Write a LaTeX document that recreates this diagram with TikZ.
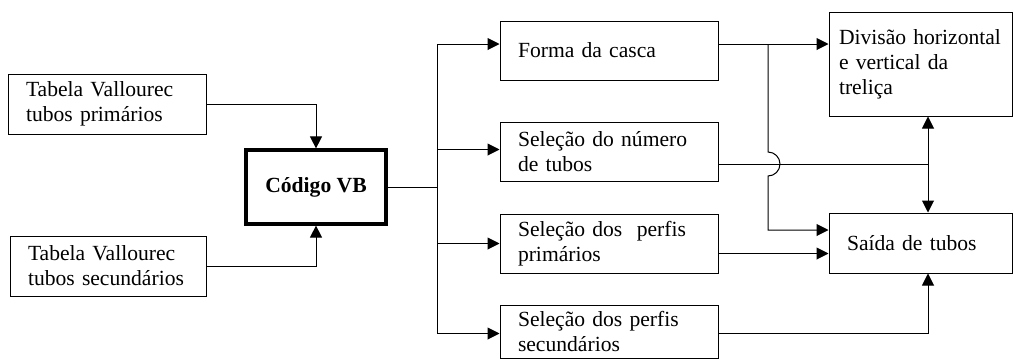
\documentclass[tikz,border=0pt]{standalone}
\usepackage{fontspec}
\setmainfont{Liberation Serif}
\usetikzlibrary{arrows.meta}

\begin{document}
\begin{tikzpicture} [line width = 0.5pt, x = 0.5pt, y = -0.5pt,
  box/.style = {draw, align = left, inner xsep = 9pt, inner ysep = 0pt, font = \fontsize{10.8}{12.5}\selectfont},
  arr/.style = {-{Triangle[length = 6pt, width = 6pt]}},
  arrboth/.style = {{Triangle[length = 6pt, width = 6pt]}-{Triangle[length = 6pt, width = 6pt]}}]

\useasboundingbox (0,0) rectangle (1014,360);

\node [box, text width = 81pt, minimum height = 30pt] (tab1) at (107,104) {Tabela Vallourec\\tubos primários};
\node [box, text width = 80pt, minimum height = 30pt] (tab2) at (108,266) {Tabela Vallourec\\tubos secundários};

\node [draw, line width = 1.6pt, minimum width = 70pt, minimum height = 37pt, font = \fontsize{10.8}{12.5}\selectfont\bfseries] (vb) at (316,187) {Código VB};

\node [box, text width = 91pt, minimum height = 29.5pt] (forma) at (609,50.5) {Forma da casca};
\node [box, text width = 91pt, minimum height = 29.5pt] (num) at (609,151.5) {Seleção do número\\de tubos};
\node [box, text width = 91pt, minimum height = 29.5pt] (prim) at (609,243.5) {Seleção dos\ \ perfis\\primários};
\node [box, text width = 91pt, minimum height = 26.5pt] (sec) at (609,331.5) {Seleção dos perfis\\secundários};

\node [box, inner xsep = 5pt, text width = 81.5pt, minimum height = 52pt] (divisao) at (920.5,64) {Divisão horizontal\\e vertical da\\treliça};
\node [box, text width = 73.5pt, minimum height = 30pt] (saida) at (920.5,243) {Saída de tubos};

\coordinate (split) at (437,187);
\coordinate (tap) at (768,44);
\coordinate (hop) at (768,164);
\coordinate (meet) at (928,164);

\draw [arr] (tab1.east) -| (vb.north);
\draw [arr] (tab2.east) -| (vb.south);

\draw (vb.east) -- (split);
\draw [arr] (split) |- (forma.west |- tap);
\draw [arr] (split) |- ([yshift = 1pt]num.west);
\draw [arr] (split) |- (prim.west);
\draw [arr] (split) |- ([yshift = -1pt]sec.west);

\draw [arr] (forma.east |- tap) -- (divisao.west |- tap);
\draw [arr] (tap) -- ([yshift = 6pt]hop) arc [start angle = 90, end angle = -90, radius = 6pt] |- ([yshift = 6.5pt]saida.west);

\draw (num.east |- meet) -- (meet);
\draw [arrboth] (divisao.south -| meet) -- (saida.north -| meet);

\draw [arr] ([yshift = -5pt]prim.east) -- ([yshift = -5pt]prim.east -| saida.west);
\draw [arr] ([yshift = -1pt]sec.east) -| (saida.south -| meet);

\end{tikzpicture}
\end{document}
